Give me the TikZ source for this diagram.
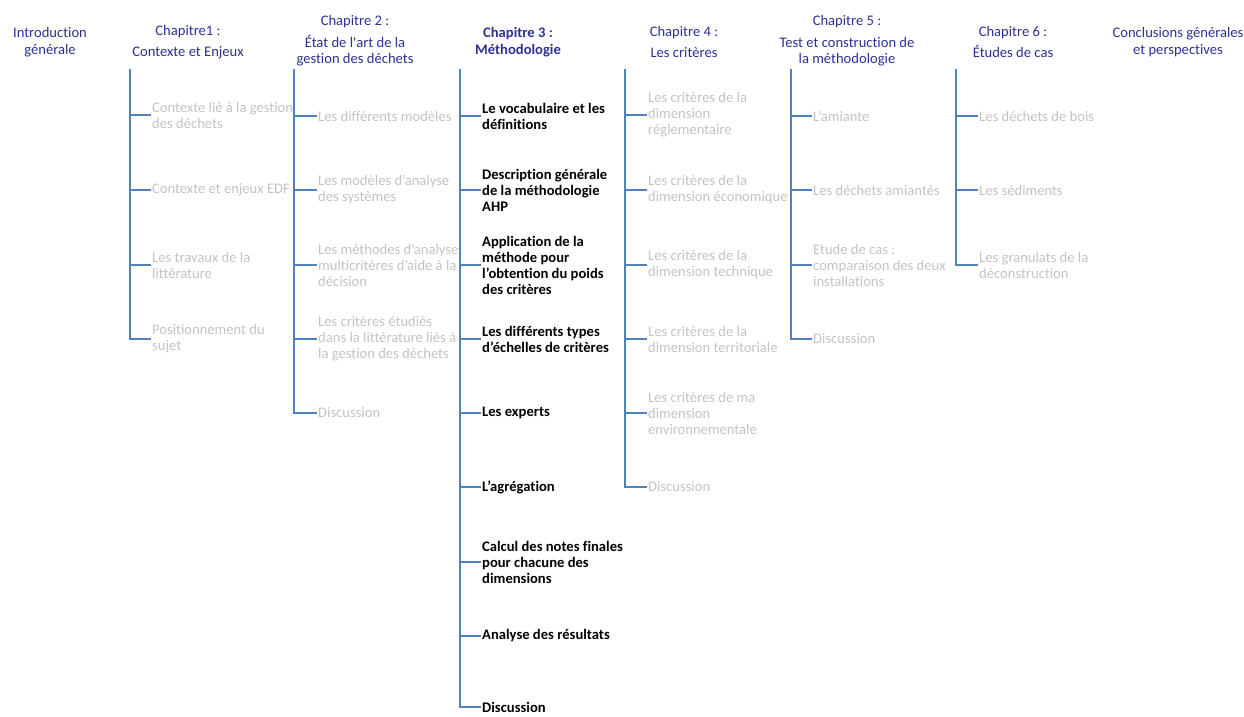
\documentclass[tikz,border=0pt]{standalone}
\usepackage{fontspec}
\setmainfont{Carlito}[Ligatures={TeX,NoCommon}]
\usetikzlibrary{backgrounds}

\definecolor{headblue}{RGB}{46,49,146}
\definecolor{trunkblue}{RGB}{79,129,189}
\definecolor{itemgray}{RGB}{195,195,195}

\tikzset{
  head/.style={text=headblue, align=center, inner sep=0pt,
    font=\fontsize{14.6}{16.5}\selectfont},
  boldhead/.style={head, font=\fontsize{14.6}{16.5}\selectfont\bfseries},
  item/.style={text=itemgray, anchor=west, align=left, inner sep=1pt,
    font=\fontsize{14.6}{16}\selectfont},
  bolditem/.style={item, text=black, font=\fontsize{14.6}{16}\selectfont\bfseries},
  trunk/.style={draw=trunkblue, line width=1.1pt}
}

\begin{document}
\begin{tikzpicture}[x=1pt,y=-1pt]
     \useasboundingbox (0,0) rectangle (1244,716);

     % titres
     \path (50,42) node[head] (intro) {Introduction\\générale};
     \path (188,42) node[head] (ch1) {Chapitre1 :\\[5pt]Contexte et Enjeux};
     \path (355,41) node[head] (ch2) {Chapitre 2 :\\[5pt]État de l\textquotesingle art de la\\gestion des déchets};
     \path (518,42) node[boldhead] (ch3) {Chapitre 3 :\\[1pt]Méthodologie};
     \path (684,42) node[head] (ch4) {Chapitre 4 :\\[5pt]Les critères};
     \path (847,41) node[head] (ch5) {Chapitre 5 :\\[5pt]Test et construction de\\la méthodologie};
     \path (1013,42) node[head] (ch6) {Chapitre 6 :\\[5pt]Études de cas};
     \path (1178,42) node[head] (concl) {Conclusions générales\\et perspectives};

     \coordinate (t1) at (130,69);
     \coordinate (t2) at (294,69);
     \coordinate (t3) at (460,69);
     \coordinate (t4) at (625,69);
     \coordinate (t5) at (791,69);
     \coordinate (t6) at (956,69);

     % chapitre 1
     \path (151,115) node[item] (a1) {Contexte lié à la gestion\\des déchets};
     \path (151,190) node[item] (a2) {Contexte et enjeux EDF};
     \path (151,265) node[item] (a3) {Les travaux de la\\littérature};
     \path (151,339) node[item] (a4) {Positionnement du\\sujet};

     % chapitre 2
     \path (317,116) node[item] (b1) {Les différents modèles};
     \path (317,190) node[item] (b2) {Les modèles d’analyse\\des systèmes};
     \path (317,265) node[item] (b3) {Les méthodes d’analyse\\multicritères d’aide à la\\décision};
     \path (317,339) node[item] (b4) {Les critères étudiés\\dans la littérature liés à\\la gestion des déchets};
     \path (317,413) node[item] (b5) {Discussion};

     % chapitre 3
     \path (481,116) node[bolditem] (c1) {Le vocabulaire et les\\définitions};
     \path (481,190) node[bolditem] (c2) {Description générale\\de la méthodologie\\AHP};
     \path (481,265) node[bolditem] (c3) {Application de la\\méthode pour\\l’obtention du poids\\des critères};
     \path (481,339) node[bolditem] (c4) {Les différents types\\d’échelles de critères};
     \path (481,413) node[bolditem] (c5) {Les experts};
     \path (481,487) node[bolditem] (c6) {L’agrégation};
     \path (481,562) node[bolditem] (c7) {Calcul des notes finales\\pour chacune des\\dimensions};
     \path (481,636) node[bolditem] (c8) {Analyse des résultats};
     \path (481,707) node[bolditem] (c9) {Discussion};

     % chapitre 4
     \path (647,115) node[item] (d1) {Les critères de la\\dimension\\réglementaire};
     \path (647,190) node[item] (d2) {Les critères de la\\dimension économique};
     \path (647,265) node[item] (d3) {Les critères de la\\dimension technique};
     \path (647,339) node[item] (d4) {Les critères de la\\dimension territoriale};
     \path (647,413) node[item] (d5) {Les critères de ma\\dimension\\environnementale};
     \path (647,487) node[item] (d6) {Discussion};

     % chapitre 5
     \path (812,116) node[item] (e1) {L’amiante};
     \path (812,190) node[item] (e2) {Les déchets amiantés};
     \path (812,265) node[item] (e3) {Etude de cas :\\comparaison des deux\\installations};
     \path (812,339) node[item] (e4) {Discussion};

     % chapitre 6
     \path (978,116) node[item] (f1) {Les déchets de bois};
     \path (978,190) node[item] (f2) {Les sédiments};
     \path (978,265) node[item] (f3) {Les granulats de la\\déconstruction};

     % arbres
     \draw[trunk] (t1) |- (a4.west);
     \draw[trunk] (t1 |- a1.west) -- (a1.west);
     \draw[trunk] (t1 |- a2.west) -- (a2.west);
     \draw[trunk] (t1 |- a3.west) -- (a3.west);

     \draw[trunk] (t2) |- (b5.west);
     \draw[trunk] (t2 |- b1.west) -- (b1.west);
     \draw[trunk] (t2 |- b2.west) -- (b2.west);
     \draw[trunk] (t2 |- b3.west) -- (b3.west);
     \draw[trunk] (t2 |- b4.west) -- (b4.west);

     \draw[trunk] (t3) |- (c9.west);
     \draw[trunk] (t3 |- c1.west) -- (c1.west);
     \draw[trunk] (t3 |- c2.west) -- (c2.west);
     \draw[trunk] (t3 |- c3.west) -- (c3.west);
     \draw[trunk] (t3 |- c4.west) -- (c4.west);
     \draw[trunk] (t3 |- c5.west) -- (c5.west);
     \draw[trunk] (t3 |- c6.west) -- (c6.west);
     \draw[trunk] (t3 |- c7.west) -- (c7.west);
     \draw[trunk] (t3 |- c8.west) -- (c8.west);

     \draw[trunk] (t4) |- (d6.west);
     \draw[trunk] (t4 |- d1.west) -- (d1.west);
     \draw[trunk] (t4 |- d2.west) -- (d2.west);
     \draw[trunk] (t4 |- d3.west) -- (d3.west);
     \draw[trunk] (t4 |- d4.west) -- (d4.west);
     \draw[trunk] (t4 |- d5.west) -- (d5.west);

     \draw[trunk] (t5) |- (e4.west);
     \draw[trunk] (t5 |- e1.west) -- (e1.west);
     \draw[trunk] (t5 |- e2.west) -- (e2.west);
     \draw[trunk] (t5 |- e3.west) -- (e3.west);

     \draw[trunk] (t6) |- (f3.west);
     \draw[trunk] (t6 |- f1.west) -- (f1.west);
     \draw[trunk] (t6 |- f2.west) -- (f2.west);

   \end{tikzpicture}
\end{document}
